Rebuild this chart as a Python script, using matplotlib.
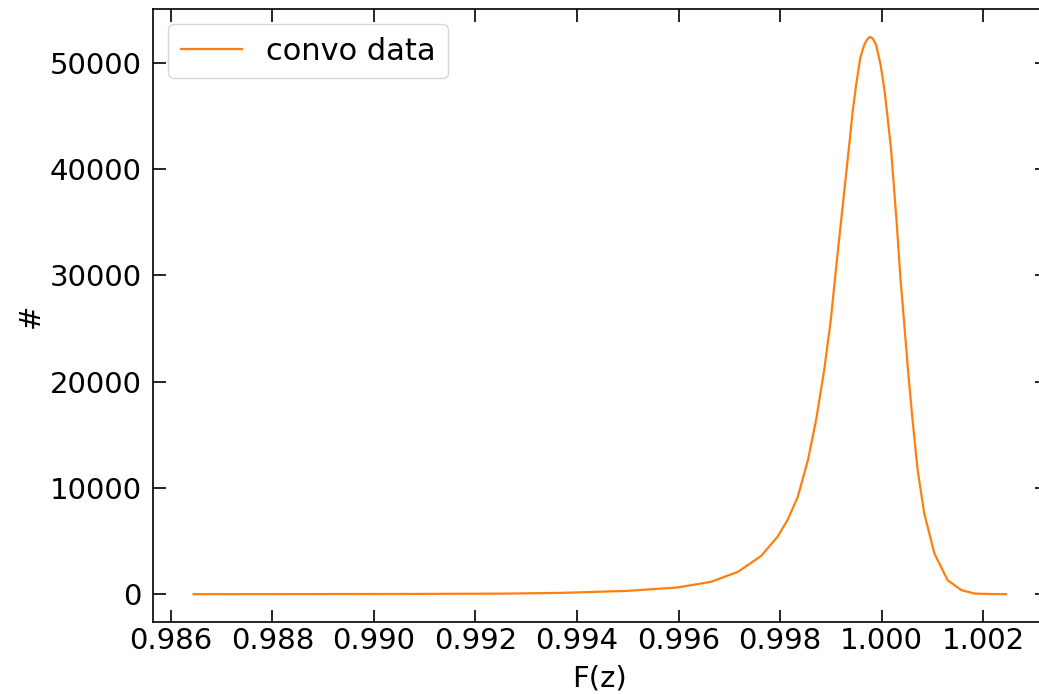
import matplotlib
matplotlib.use("Agg")
import matplotlib.pyplot as plt

# values
fz = [0.98645, 0.98856, 0.99053, 0.99250, 0.99368, 0.99500, 0.99598, 0.99664,
      0.99717, 0.99763, 0.99795, 0.99815, 0.99835, 0.99855, 0.99871, 0.99887,
      0.99900, 0.99910, 0.99920, 0.99930, 0.99937, 0.99943, 0.99950, 0.99958,
      0.99966, 0.99972, 0.99977, 0.99983, 0.99989, 0.99998, 1.00006, 1.00012,
      1.00019, 1.00024, 1.00030, 1.00037, 1.00044, 1.00052, 1.00061, 1.00071,
      1.00084, 1.00104, 1.00130, 1.00157, 1.00183, 1.00216, 1.00245]
counts = [0, 10, 20, 50, 120, 310, 630, 1160,
          2100, 3600, 5400, 7000, 9160, 12620, 16380, 21090,
          25800, 30510, 35000, 39450, 42590, 45410, 47930, 50440,
          51700, 52200, 52420, 52250, 51700, 49810, 47300, 44790,
          41650, 38510, 34800, 29800, 25800, 21090, 16380, 11680,
          7600, 3830, 1320, 380, 60, 10, 0]

fig = plt.figure(figsize=(10.39, 6.94), dpi=100)
ax = fig.add_axes([0.1473, 0.1037, 0.860, 0.8833])
ax.plot(fz, counts, color='#ff7f0e', lw=1.6, label='convo data')

ax.tick_params(direction='in', which='major', length=9, width=1.2,
               top=True, right=True, labelsize=21)
ax.tick_params(axis='y', pad=8)
for s in ax.spines.values():
    s.set_linewidth(1.2)

ax.set_xticks([0.986, 0.988, 0.990, 0.992, 0.994, 0.996, 0.998, 1.000, 1.002])
ax.set_xticklabels(['0.986', '0.988', '0.990', '0.992', '0.994', '0.996', '0.998', '1.000', '1.002'])
ax.set_xlabel('F(z)', fontsize=21, labelpad=7)
ax.set_ylabel('#', fontsize=21)
ax.legend(loc='upper left', fontsize=22)

fig.savefig('out.png', dpi=100)
